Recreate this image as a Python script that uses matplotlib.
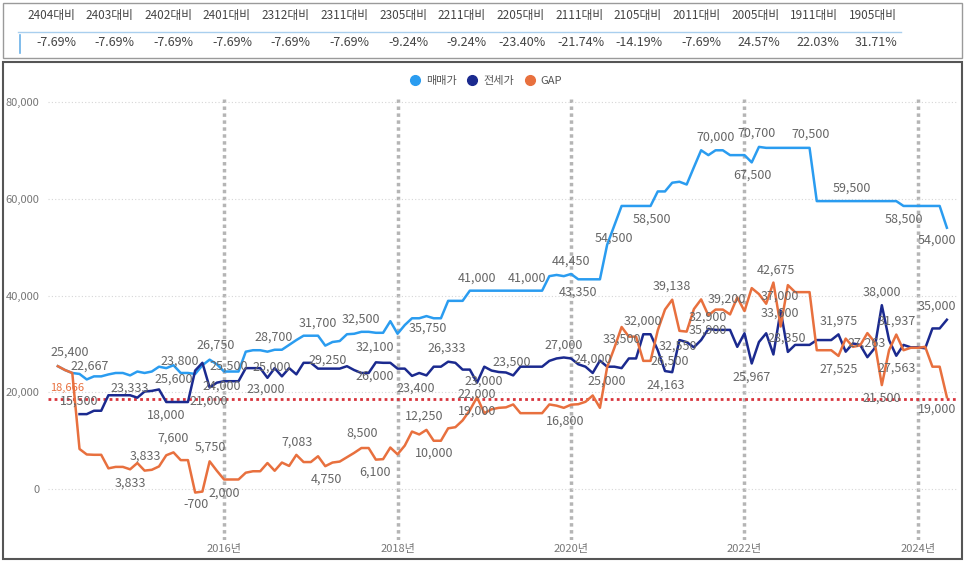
import numpy as np
import pandas as pd
import matplotlib
matplotlib.use("Agg")
import matplotlib.pyplot as plt
from matplotlib.lines import Line2D
from matplotlib.patches import Rectangle
from matplotlib.ticker import FuncFormatter

plt.rcParams['font.family'] = ['Noto Sans CJK KR', 'DejaVu Sans']

# comparison table: latest price vs. price in each month
cmp_months = ['2404', '2403', '2402', '2401', '2312', '2311', '2305', '2211',
              '2205', '2111', '2105', '2011', '2005', '1911', '1905']
cmp_rates = [-7.69, -7.69, -7.69, -7.69, -7.69, -7.69, -9.24, -9.24,
             -23.40, -21.74, -14.19, -7.69, 24.57, 22.03, 31.71]

# monthly data 2014-02 .. 2024-05
months = pd.date_range('2014-02-01', periods=124, freq='MS')
sale = [25400, 24600, 24000, 23800, 22667, 23300, 23300, 23700, 24000, 24000,
        23500, 24300, 24000, 24300, 25300, 25000, 25600, 24000, 24000, 23800,
        25600, 26750, 25800, 24300, 24300, 24300, 28400, 28700, 28700, 28400,
        28800, 28800, 29800, 30800, 31700, 31700, 31700, 29650, 30400, 30600,
        32000, 32100, 32500, 32500, 32300, 32300, 34700, 32100, 33900, 35300,
        35300, 35750, 35300, 35300, 38900, 38900, 38900, 41000, 41000, 41000,
        41000, 41000, 41000, 41000, 41000, 41000, 41000, 41000, 44000, 44250,
        44000, 44450, 43350, 43350, 43350, 43350, 50500, 54500, 58500, 58500,
        58500, 58500, 58500, 61500, 61500, 63300, 63500, 62930, 66500, 70000,
        69000, 70000, 70000, 69000, 69000, 69000, 67500, 70700, 70500, 70500,
        70500, 70500, 70500, 70500, 70500, 59500, 59500, 59500, 59500, 59500,
        59500, 59500, 59500, 59500, 59500, 59500, 59500, 58500, 58500, 58500,
        58500, 58500, 58500, 54000]
jeonse = [np.nan, np.nan, np.nan, 15500, 15500, 16200, 16200, 19400, 19400, 19400,
          19400, 18900, 20167, 20300, 20600, 18000, 18000, 18000, 18000, 24500,
          26100, 21000, 22000, 22300, 22300, 22300, 25000, 25000, 25000, 23000,
          25000, 23300, 25000, 23717, 26100, 26100, 24900, 24900, 24900, 24900,
          25400, 24600, 24000, 24000, 26200, 26100, 26100, 24900, 24900, 23400,
          24000, 23500, 25300, 25300, 26333, 26100, 24700, 24700, 22000, 25300,
          24500, 24200, 24100, 23500, 25300, 25300, 25300, 25300, 26500, 27000,
          27200, 27000, 25800, 25300, 24000, 26550, 25300, 25300, 25000, 27000,
          27000, 32000, 32000, 28700, 24400, 24163, 30800, 30380, 29300, 30800,
          33100, 32900, 32900, 32900, 29400, 32200, 25967, 30400, 32200, 27825,
          36900, 28350, 29800, 29800, 29800, 30800, 30800, 30800, 31975, 28400,
          30100, 29800, 27263, 29100, 38000, 30800, 27563, 29800, 29300, 29300,
          29100, 33200, 33200, 35000]
gap = [25400, 24600, 24000, 8300, 7167, 7100, 7100, 4300, 4600, 4600,
       4100, 5400, 3833, 4000, 4700, 7000, 7600, 6000, 6000, -700,
       -500, 5750, 3800, 2000, 2000, 2000, 3400, 3700, 3700, 5400,
       3800, 5500, 4800, 7083, 5600, 5600, 6800, 4750, 5500, 5700,
       6600, 7500, 8500, 8500, 6100, 6200, 8600, 7200, 9000, 11900,
       11300, 12250, 10000, 10000, 12567, 12800, 14200, 16300, 19000, 15700,
       16500, 16800, 16900, 17500, 15700, 15700, 15700, 15700, 17500, 17250,
       16800, 17450, 17550, 18050, 19350, 16800, 25200, 29200, 33500, 31500,
       31500, 26500, 26500, 32800, 37100, 39137, 32700, 32550, 37200, 39200,
       35900, 37100, 37100, 36100, 39600, 36800, 41533, 40300, 38300, 42675,
       33600, 42150, 40700, 40700, 40700, 28700, 28700, 28700, 27525, 31100,
       29400, 29700, 32237, 30400, 21500, 28700, 31937, 28700, 29200, 29200,
       29400, 25300, 25300, 19000]
gap_avg = 18666

year_ticks = [2016, 2018, 2020, 2022, 2024]

# data labels as they sit in the chart: (decimal year, value, text)
data_labels = [
    (2014.225, 28300, '25,400'), (2014.455, 25400, '22,667'), (2014.329, 18200, '15,500'),
    (2014.916, 20900, '23,333'), (2015.493, 26400, '23,800'), (2015.908, 29750, '26,750'),
    (2015.424, 22700, '25,600'), (2016.058, 25400, '25,500'), (2015.977, 21300, '24,000'),
    (2015.827, 18200, '21,000'), (2015.331, 15300, '18,000'), (2015.412, 10500, '7,600'),
    (2015.089, 6800, '3,833'), (2014.916, 1200, '3,833'), (2015.839, 8700, '5,750'),
    (2016.0, -800, '2,000'), (2015.677, -3100, '-700'), (2016.576, 31400, '28,700'),
    (2016.553, 25200, '25,000'), (2016.484, 20700, '23,000'), (2017.084, 34300, '31,700'),
    (2017.199, 26650, '29,250'), (2016.842, 9700, '7,083'), (2017.176, 2100, '4,750'),
    (2017.579, 35100, '32,500'), (2017.741, 29300, '32,100'), (2017.741, 23300, '26,000'),
    (2017.591, 11600, '8,500'), (2017.741, 3500, '6,100'), (2018.213, 20900, '23,400'),
    (2018.352, 33300, '35,750'), (2018.305, 15100, '12,250'), (2018.421, 7400, '10,000'),
    (2018.571, 29100, '26,333'), (2018.916, 43600, '41,000'), (2019.493, 43600, '41,000'),
    (2019.320, 26200, '23,500'), (2018.997, 22300, '23,000'), (2018.916, 19600, '22,000'),
    (2018.916, 16100, '19,000'), (2019.931, 14000, '16,800'), (2019.919, 29750, '27,000'),
    (2020.0, 47100, '44,450'), (2020.081, 40700, '43,350'), (2020.254, 26900, '24,000'),
    (2020.415, 22300, '25,000'), (2020.588, 31000, '33,500'), (2020.496, 51900, '54,500'),
    (2020.934, 55800, '58,500'), (2020.830, 34700, '32,000'), (2021.164, 41900, '39,138'),
    (2021.141, 26400, '26,500'), (2021.233, 29500, '32,550'), (2021.095, 21500, '24,163'),
    (2021.579, 35500, '32,900'), (2021.579, 32800, '35,900'), (2021.798, 39300, '39,200'),
    (2021.671, 72700, '70,000'), (2022.086, 64900, '67,500'), (2022.144, 73500, '70,700'),
    (2022.086, 23100, '25,967'), (2022.363, 45200, '42,675'), (2022.409, 39900, '37,000'),
    (2022.409, 36400, '33,600'), (2022.490, 31200, '28,350'), (2022.767, 73300, '70,500'),
    (2023.239, 62200, '59,500'), (2023.089, 34700, '31,975'), (2023.089, 24800, '27,525'),
    (2023.412, 30200, '27,263'), (2023.585, 40700, '38,000'), (2023.758, 34700, '31,937'),
    (2023.758, 25000, '27,563'), (2023.585, 18800, '21,500'), (2023.839, 55800, '58,500'),
    (2024.219, 51400, '54,000'), (2024.219, 37800, '35,000'), (2024.219, 16500, '19,000'),
]

c_sale = '#2a9cf0'
c_jeonse = '#1b2a8f'
c_gap = '#e8703e'
c_text = '#666666'

x = months.year + (months.month - 1) / 12

fig = plt.figure(figsize=(9.66, 5.62), dpi=100)

# panel frames
fig.patches.append(Rectangle((3 / 966, 1 - 58 / 562), 959 / 966, 55 / 562,
                             transform=fig.transFigure, fill=False,
                             edgecolor='#9a9a9a', lw=1))
fig.patches.append(Rectangle((3 / 966, 1 - 559 / 562), 959 / 966, 497 / 562,
                             transform=fig.transFigure, fill=False,
                             edgecolor='#555555', lw=1.5))

# comparison table
for k, (m, r) in enumerate(zip(cmp_months, cmp_rates)):
    xr = (75 + 58.7 * k) / 966
    fig.text(xr, 1 - 15 / 562, m + '대비', ha='right', va='center',
             fontsize=8.5, color='#444444')
    fig.text(xr + 1 / 966, 1 - 43 / 562, f'{r:.2f}%', ha='right', va='center',
             fontsize=9, color='#444444')
fig.add_artist(Line2D([18 / 966, 901 / 966], [1 - 32 / 562] * 2,
                      color='#a9cfee', lw=1))
fig.add_artist(Line2D([20 / 966] * 2, [1 - 35 / 562, 1 - 53 / 562],
                      color='#6ab0e8', lw=1.2))

ax = fig.add_axes([48 / 966, 1 - 540 / 562, 909 / 966, 442 / 562])

ax.plot(x, sale, color=c_sale, lw=1.8, zorder=3)
ax.plot(x, jeonse, color=c_jeonse, lw=1.8, zorder=4)
ax.plot(x, gap, color=c_gap, lw=1.8, zorder=5)

ax.axhline(gap_avg, color='#d8343c', lw=2, linestyle=(0, (1, 1.2)), zorder=2)
ax.text(2013.995, gap_avg + 2200, f'{gap_avg:,}', ha='left', va='center',
        fontsize=8, color=c_gap)

for lx, ly, lt in data_labels:
    ax.text(lx, ly, lt, ha='center', va='center', fontsize=9, color=c_text,
            zorder=6)

ax.set_xlim(2013.97, 2024.45)
ax.set_ylim(-10500, 80800)
ax.set_yticks([0, 20000, 40000, 60000, 80000])
ax.yaxis.set_major_formatter(FuncFormatter(lambda v, p: f'{v:,.0f}'))
ax.set_xticks(year_ticks)
ax.set_xticklabels([f'{y}년' for y in year_ticks])

ax.yaxis.grid(True, color='#d6d6d6', lw=0.8, linestyle=(0, (1, 2)))
ax.xaxis.grid(True, color='#b5b5b5', lw=2.5, linestyle=(0, (1, 1)))
ax.set_axisbelow(True)
for s in ax.spines.values():
    s.set_visible(False)
ax.tick_params(axis='both', length=0, colors='#777777')
ax.tick_params(axis='y', labelsize=8, pad=6)
ax.tick_params(axis='x', labelsize=8, pad=3)

handles = [Line2D([], [], marker='o', linestyle='', markersize=7, color=c)
           for c in (c_sale, c_jeonse, c_gap)]
fig.legend(handles, ['매매가', '전세가', 'GAP'], loc='center',
           bbox_to_anchor=(0.5, 1 - 81 / 562), ncol=3, frameon=False,
           fontsize=8, handletextpad=0.0, columnspacing=0.4,
           labelcolor='#555555')

fig.savefig('out.png', dpi=100)
